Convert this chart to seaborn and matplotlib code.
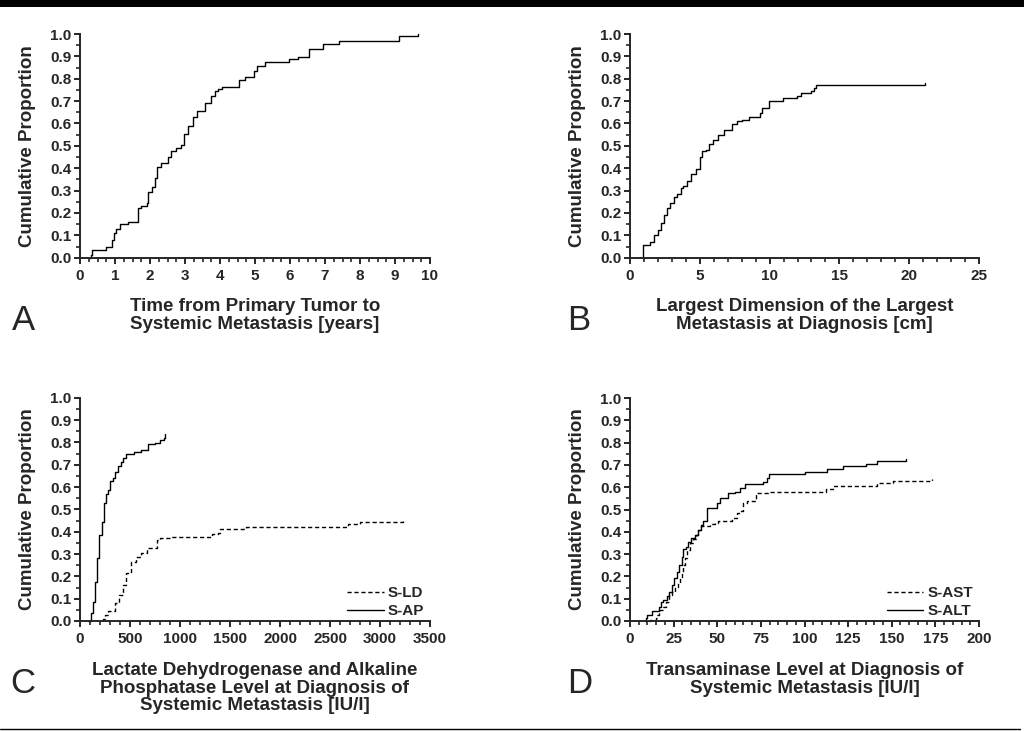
import numpy as np
import pandas as pd
import matplotlib
matplotlib.use("Agg")
import matplotlib.pyplot as plt
from matplotlib.patches import Rectangle
from matplotlib.lines import Line2D
from matplotlib.ticker import MultipleLocator, FormatStrFormatter
import seaborn as sns

# ---------------- data ----------------
# Panel A: time from primary tumor to systemic metastasis [years]
time_a = [0.27, 0.30, 0.34, 0.75, 0.90, 0.97, 1.04, 1.13, 1.37, 1.66, 1.73, 1.90, 1.94, 2.06,
          2.13, 2.20, 2.30, 2.50, 2.61, 2.75, 2.88, 2.97, 3.09, 3.23, 3.35, 3.58, 3.75, 3.85,
          3.94, 4.06, 4.54, 4.71, 4.90, 4.96, 5.05, 5.29, 5.98, 6.24, 6.55, 6.95, 7.41, 9.10, 9.67]
prop_a = [0.0, 0.012, 0.034, 0.049, 0.079, 0.109, 0.13, 0.151, 0.161, 0.221, 0.231, 0.243, 0.295,
          0.318, 0.355, 0.407, 0.422, 0.452, 0.479, 0.49, 0.504, 0.554, 0.587, 0.631, 0.658,
          0.691, 0.721, 0.743, 0.754, 0.763, 0.795, 0.807, 0.81, 0.833, 0.855, 0.877, 0.888,
          0.897, 0.933, 0.957, 0.967, 0.99, 1.0]

# Panel B: largest dimension of largest metastasis [cm]
size_b = [0.9, 0.95, 1.43, 1.7, 2.0, 2.2, 2.4, 2.67, 2.86, 3.14, 3.38, 3.67, 3.8, 4.05, 4.38, 4.7,
          5.0, 5.14, 5.45, 5.69, 5.98, 6.29, 6.7, 7.29, 7.67, 8.0, 8.5, 9.3, 9.48, 9.95, 10.95,
          11.95, 12.26, 12.98, 13.2, 13.3, 21.1]
prop_b = [0.0, 0.057, 0.072, 0.10, 0.124, 0.154, 0.19, 0.22, 0.243, 0.27, 0.285, 0.31, 0.32, 0.343,
          0.375, 0.395, 0.45, 0.475, 0.48, 0.51, 0.524, 0.55, 0.57, 0.597, 0.61, 0.616, 0.627,
          0.646, 0.67, 0.70, 0.713, 0.724, 0.736, 0.746, 0.758, 0.77, 0.78]

# Panel C: S-LD and S-AP [IU/l]
ld_level = [225, 233, 253, 280, 353, 387, 430, 463, 513, 563, 613, 667, 767, 800, 900, 1317, 1383,
            1400, 1660, 2683, 2800, 3233]
ld_prop = [0.0, 0.009, 0.027, 0.045, 0.079, 0.116, 0.161, 0.213, 0.266, 0.288, 0.303, 0.326, 0.363,
           0.37, 0.378, 0.39, 0.396, 0.412, 0.422, 0.434, 0.445, 0.455]
ap_level = [80, 107, 130, 153, 173, 193, 220, 240, 260, 280, 300, 327, 353, 380, 407, 433, 460, 540,
            613, 680, 753, 797, 840, 853]
ap_prop = [0.0, 0.034, 0.086, 0.176, 0.28, 0.385, 0.445, 0.527, 0.57, 0.587, 0.627, 0.639, 0.669,
           0.696, 0.713, 0.729, 0.746, 0.755, 0.766, 0.791, 0.796, 0.81, 0.818, 0.836]

# Panel D: S-AST and S-ALT [IU/l]
ast_level = [11.0, 11.5, 14.9, 15.7, 16.8, 19.1, 20.6, 22.5, 24.1, 25.8, 27.7, 28.7, 29.6, 30.6, 31.5,
             32.8, 34.4, 35.9, 37.8, 39.2, 40.5, 45.8, 48.7, 50.6, 58.3, 61.1, 63.0, 64.9, 66.9,
             72.2, 79.3, 112.3, 116.2, 141.4, 150.5, 172.9]
ast_prop = [0.0, 0.004, 0.012, 0.027, 0.049, 0.064, 0.087, 0.117, 0.131, 0.154, 0.169, 0.191, 0.221,
            0.251, 0.281, 0.318, 0.348, 0.366, 0.386, 0.408, 0.426, 0.435, 0.441, 0.45, 0.46,
            0.483, 0.493, 0.528, 0.54, 0.573, 0.58, 0.59, 0.607, 0.617, 0.628, 0.635]
alt_level = [8.6, 8.9, 9.55, 12.4, 16.8, 17.6, 19.1, 21.0, 22.5, 23.9, 25.2, 26.7, 28.3, 29.6, 30.6,
             32.1, 33.4, 34.8, 37.2, 39.2, 40.5, 42.0, 44.0, 50.0, 51.6, 56.3, 60.2, 63.0, 65.9,
             76.0, 78.3, 79.8, 100.3, 113.1, 122.2, 135.2, 141.4, 158.0]
alt_prop = [0.0, 0.012, 0.027, 0.045, 0.064, 0.087, 0.094, 0.112, 0.131, 0.161, 0.191, 0.221, 0.251,
            0.288, 0.321, 0.333, 0.356, 0.371, 0.386, 0.408, 0.43, 0.45, 0.505, 0.528, 0.55, 0.573,
            0.58, 0.595, 0.614, 0.625, 0.64, 0.659, 0.67, 0.682, 0.695, 0.704, 0.716, 0.725]

# ---------------- style ----------------
sns.set_style("ticks")
plt.rcParams["font.family"] = ["Liberation Sans", "DejaVu Sans"]
plt.rcParams["axes.linewidth"] = 1.4

W, H = 1024, 731
fig = plt.figure(figsize=(W / 100, H / 100), dpi=100)


def ax_at(l, r, t, b):
    return fig.add_axes([l / W, 1 - b / H, (r - l) / W, (b - t) / H])


axA = ax_at(80, 430, 34, 257.7)
axB = ax_at(630, 979, 34, 257.7)
axC = ax_at(80, 430, 397.7, 621)
axD = ax_at(630, 979, 398, 621)

dash = (0, (3, 2))


def curve(ax, x, y, ls="-", label=None):
    df = pd.DataFrame({"x": x, "y": y})
    sns.lineplot(data=df, x="x", y="y", ax=ax, color="black", linewidth=1.0,
                 drawstyle="steps-post", estimator=None, sort=False, linestyle=ls,
                 label=label, legend=False, clip_on=False)


curve(axA, time_a, prop_a)
curve(axB, size_b, prop_b)
curve(axC, ld_level, ld_prop, ls=dash, label="S-LD")
curve(axC, ap_level, ap_prop, ls="-", label="S-AP")
curve(axD, ast_level, ast_prop, ls=dash, label="S-AST")
curve(axD, alt_level, alt_prop, ls="-", label="S-ALT")

setup = [
    (axA, 10, 1, 0.25, "%d", "Time from Primary Tumor to\nSystemic Metastasis [years]"),
    (axB, 25, 5, 1, "%d", "Largest Dimension of the Largest\nMetastasis at Diagnosis [cm]"),
    (axC, 3500, 500, 100, "%d", "Lactate Dehydrogenase and Alkaline\nPhosphatase Level at Diagnosis of\nSystemic Metastasis [IU/l]"),
    (axD, 200, 25, 5, "%d", "Transaminase Level at Diagnosis of\nSystemic Metastasis [IU/l]"),
]
for ax, xmax, maj, mnr, fmt, xl in setup:
    ax.set_xlim(0, xmax)
    ax.set_ylim(0, 1.0)
    ax.xaxis.set_major_locator(MultipleLocator(maj))
    ax.xaxis.set_minor_locator(MultipleLocator(mnr))
    ax.yaxis.set_major_locator(MultipleLocator(0.1))
    ax.yaxis.set_minor_locator(MultipleLocator(0.05))
    ax.yaxis.set_major_formatter(FormatStrFormatter("%.1f"))
    ax.xaxis.set_major_formatter(FormatStrFormatter(fmt))
    ax.tick_params(which="major", length=4.2, width=1.4, labelsize=11, direction="out")
    ax.tick_params(which="minor", length=2.6, width=1.2, direction="out")
    ax.tick_params(axis="x", which="major", pad=4)
    ax.tick_params(axis="y", which="major", pad=2)
    for lab in ax.get_xticklabels() + ax.get_yticklabels():
        lab.set_fontweight("bold")
    sns.despine(ax=ax)
    ax.set_xlabel(xl, fontsize=13.5, fontweight="bold", labelpad=11, linespacing=1.07)
    ax.set_ylabel("Cumulative Proportion", fontsize=13.5, fontweight="bold", labelpad=10)
    ax.set_facecolor("none")

for ax in (axC, axD):
    ax.legend(loc="lower right", bbox_to_anchor=(1.0, -0.015), frameon=False,
              prop={"weight": "bold", "size": 11}, handlelength=2.4,
              handletextpad=0.25, labelspacing=0.25, borderaxespad=0.0)

# panel letters
for letter, x, y in [("A", 12, 330), ("B", 567, 330), ("C", 10, 693), ("D", 567, 693)]:
    fig.text(x / W, 1 - y / H, letter, fontsize=25, ha="left", va="baseline")

# decorative rules
fig.add_artist(Rectangle((0, 1 - 7 / H), 1, 7 / H, transform=fig.transFigure,
                         color="black", lw=0))
fig.add_artist(Line2D([0, 1020 / W], [1 - 729 / H] * 2, transform=fig.transFigure,
                      color="black", lw=1.0))

fig.savefig("out.png", dpi=100, facecolor="white")
